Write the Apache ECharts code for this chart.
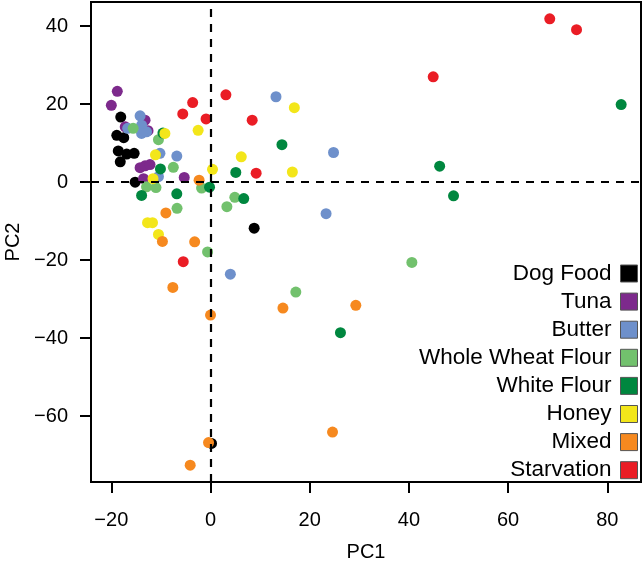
<!DOCTYPE html>
<html>
<head>
<meta charset="utf-8">
<title>PCA</title>
<script src="https://cdn.jsdelivr.net/npm/echarts@6.0.0/dist/echarts.min.js"></script>
<style>
  html, body { margin: 0; padding: 0; background: #fff; }
  #chart { width: 643px; height: 565px; }
</style>
</head>
<body>
<div id="chart"></div>
<script>
// groups, in legend order
const groupNames = ['Dog Food', 'Tuna', 'Butter', 'Whole Wheat Flour', 'White Flour', 'Honey', 'Mixed', 'Starvation'];
const groupColors = ['#000000', '#7d2a8c', '#6e90cb', '#72c16d', '#00873f', '#f3e61a', '#f6891f', '#ea1d25'];

// [PC1, PC2]
const dogFood = [[-18.1, 16.7], [-18.9, 12.0], [-17.5, 11.4], [-18.6, 8.0], [-16.9, 7.2], [-15.4, 7.4],
  [-18.2, 5.2], [-15.2, 0.0], [8.8, -11.8], [0.2, -67.0]];
const tuna = [[-18.8, 23.3], [-20.0, 19.7], [-17.2, 14.2], [-13.2, 15.9], [-12.6, 13.2], [-14.2, 3.7],
  [-13.2, 4.2], [-12.2, 4.5], [-13.5, 0.9], [-5.3, 1.2]];
const butter = [[-14.2, 17.0], [-16.7, 13.8], [-13.9, 14.6], [-12.9, 12.9], [-13.9, 12.5], [-10.2, 7.4],
  [-6.8, 6.7], [-10.5, 1.4], [13.2, 21.9], [24.8, 7.6], [23.3, -8.1], [4.0, -23.6]];
const wholeWheat = [[-15.6, 13.8], [-10.5, 10.9], [-7.5, 3.8], [-12.9, -1.2], [-11.0, -1.4], [-1.8, -1.5],
  [-6.75, -6.7], [4.9, -3.9], [3.3, -6.3], [-0.6, -17.9], [17.2, -28.2], [40.6, -20.6]];
const whiteFlour = [[-9.6, 12.6], [-10.1, 3.4], [-13.9, -3.4], [-6.8, -3.0], [-0.2, -1.3], [5.1, 2.5],
  [6.7, -4.2], [14.4, 9.6], [46.2, 4.1], [49.0, -3.5], [82.8, 19.9], [26.2, -38.6]];
const honey = [[-9.2, 12.5], [-11.1, 7.0], [-11.6, 0.9], [-2.5, 13.3], [0.4, 3.3], [6.2, 6.5],
  [16.9, 19.1], [16.5, 2.6], [-12.7, -10.4], [-11.7, -10.4], [-10.5, -13.4]];
const mixed = [[-2.3, 0.5], [-9.0, -7.9], [-9.7, -15.2], [-3.2, -15.3], [-7.6, -27.0], [0.0, -34.1],
  [14.6, -32.3], [29.3, -31.6], [24.6, -64.1], [-0.4, -66.8], [-4.1, -72.6]];
const starvation = [[3.1, 22.4], [-3.6, 20.4], [-5.6, 17.5], [-0.9, 16.2], [8.4, 15.9], [9.2, 2.3],
  [-5.5, -20.4], [44.9, 27.0], [68.4, 41.9], [73.8, 39.1]];

const groupData = [dogFood, tuna, butter, wholeWheat, whiteFlour, honey, mixed, starvation];

// tick labels
const xTicks = [-20, 0, 20, 40, 60, 80];
const yTicks = [-60, -40, -20, 0, 20, 40];

const fontFamily = '"Liberation Sans", Arial, sans-serif';
const minus = v => String(v).replace('-', '\u2212');

let chart = echarts.init(document.getElementById('chart'), null, { renderer: 'canvas' });

let series = [];
// dashed zero lines, behind the points
series.push({
    type: 'scatter',
    data: [],
    z: 1,
    silent: true,
    markLine: {
        silent: true,
        symbol: 'none',
        label: { show: false },
        lineStyle: { color: '#000', width: 2.2, type: [8, 7] },
        data: [{ xAxis: 0 }, { yAxis: 0 }]
    }
});
groupNames.forEach((name, i) => {
    series.push({
        name: name,
        type: 'scatter',
        z: 2,
        symbolSize: 11,
        itemStyle: { color: groupColors[i], opacity: 1 },
        data: groupData[i]
    });
});

const option = {
    animation: false,
    backgroundColor: '#fff',
    grid: {
        left: 91, right: 2, top: 2, bottom: 83,
        outerBoundsMode: 'none',
        containLabel: false,
        show: true,
        borderColor: '#000',
        borderWidth: 2
    },
    xAxis: {
        type: 'value',
        min: -24.1,
        max: 86.8,
        name: 'PC1',
        nameLocation: 'middle',
        nameGap: 60,
        nameTextStyle: { fontSize: 20, color: '#000', fontFamily: fontFamily },
        axisLine: { show: false, onZero: false },
        splitLine: { show: false },
        axisTick: { show: true, length: 11, customValues: xTicks, lineStyle: { color: '#000', width: 2 } },
        axisLabel: { customValues: xTicks, margin: 28, fontSize: 20, color: '#000', fontFamily: fontFamily, formatter: minus }
    },
    yAxis: {
        type: 'value',
        min: -76.9,
        max: 46.2,
        name: 'PC2',
        nameLocation: 'middle',
        nameGap: 59,
        nameTextStyle: { fontSize: 20, color: '#000', fontFamily: fontFamily },
        axisLine: { show: false, onZero: false },
        splitLine: { show: false },
        axisTick: { show: true, length: 11, customValues: yTicks, lineStyle: { color: '#000', width: 2 } },
        axisLabel: { customValues: yTicks, margin: 23, fontSize: 20, color: '#000', fontFamily: fontFamily, formatter: minus }
    },
    legend: {
        data: groupNames,
        orient: 'vertical',
        align: 'right',
        right: 0,
        top: 257,
        itemWidth: 17,
        itemHeight: 17,
        itemGap: 5.1,
        icon: 'rect',
        selectedMode: false,
        itemStyle: { borderColor: '#555', borderWidth: 1 },
        textStyle: { fontSize: 22.5, lineHeight: 22.5, color: '#000', fontFamily: fontFamily, padding: [0, 4, 0, 0] }
    },
    series: series
};
chart.setOption(option);
</script>
</body>
</html>
